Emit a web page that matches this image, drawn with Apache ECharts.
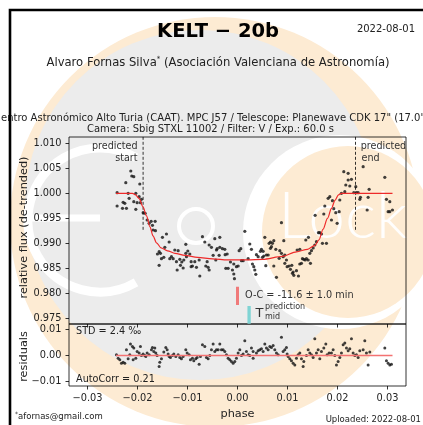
<!DOCTYPE html>
<html>
<head>
<meta charset="utf-8">
<script src="https://cdn.jsdelivr.net/npm/echarts@6/dist/echarts.min.js"></script>
<style>
html,body{margin:0;padding:0;background:#fff;}
#c{width:423px;height:425px;}
</style>
</head>
<body>
<div id="c"></div>
<script>
// ---------- data ----------
const phaseTicks = [-0.03, -0.02, -0.01, 0, 0.01, 0.02, 0.03];
const fluxTicks = [0.975, 0.980, 0.985, 0.990, 0.995, 1.000, 1.005, 1.010];
const residualTicks = [-0.01, 0, 0.01];

const observed = [
[-0.02134,1.00446],[-0.02114,1.00346],[-0.02074,1.00333],[-0.02234,1.00213],[-0.01954,1.00186],
[-0.02408,1.00013],[-0.02187,0.99999],[-0.02034,0.99999],[-0.01967,0.99933],[-0.01921,0.99879],
[-0.02167,0.99899],[-0.02074,0.99833],[-0.02287,0.99819],[-0.02254,0.99799],[-0.02408,0.99746],
[-0.02300,0.99699],[-0.02221,0.99699],[-0.02034,0.99679],[-0.02007,0.99813],[-0.01941,0.99813],
[-0.01887,0.99613],[-0.01847,0.99599],[-0.01807,0.99466],[-0.01767,0.99399],[-0.01727,0.99439],
[-0.01647,0.99439],[-0.01701,0.99359],[-0.01687,0.99266],[-0.01641,0.99253],[-0.01421,0.99186],
[-0.01501,0.99119],[-0.01367,0.99026],[-0.01454,0.98919],[-0.01567,0.98833],[-0.01541,0.98799],
[-0.01601,0.98786],[-0.01474,0.98719],[-0.01521,0.98693],[-0.01567,0.98559],[-0.01321,0.98733],
[-0.01254,0.98866],[-0.01187,0.98853],[-0.01354,0.98693],[-0.01287,0.98693],[-0.01154,0.98679],
[-0.01221,0.98633],[-0.01114,0.98626],[-0.01074,0.98666],[-0.01141,0.98559],[-0.01207,0.98466],
[-0.01087,0.98506],[-0.01034,0.98799],[-0.00994,0.98846],[-0.00954,0.98786],[-0.01021,0.98733],
[-0.01034,0.98979],[-0.00927,0.98633],[-0.00854,0.98633],[-0.00901,0.98546],[-0.00821,0.98519],
[-0.00927,0.98533],[-0.00767,0.98666],[-0.00754,0.98346],[-0.00701,0.99133],[-0.00654,0.99026],
[-0.00567,0.98966],[-0.00607,0.98633],[-0.00634,0.98546],[-0.00587,0.98519],[-0.00567,0.98466],
[-0.00521,0.98919],[-0.00454,0.99093],[-0.00407,0.98893],[-0.00487,0.98759],[-0.00434,0.98666],
[-0.00354,0.99119],[-0.00354,0.98919],[-0.00301,0.98893],[-0.00254,0.98879],[-0.00421,0.98866],
[-0.00367,0.98759],[-0.00247,0.98773],[-0.00207,0.98786],[-0.00234,0.98499],[-0.00187,0.98499],
[-0.00141,0.98626],[-0.00101,0.98466],[-0.00074,0.98386],[-0.00061,0.98293],[-0.00074,0.98586],
[-0.00021,0.98533],[0.00013,0.98546],[0.00033,0.98853],[0.00066,0.98893],[0.00079,0.98653],
[0.00113,0.98653],[0.00146,0.99239],[0.00246,0.98986],[0.00213,0.98693],[0.00299,0.98586],
[0.00326,0.98533],[0.00279,0.98879],[0.00346,0.98466],[0.00366,0.98379],[0.00379,0.98773],
[0.00413,0.98733],[0.00479,0.98879],[0.00459,0.98839],[0.00513,0.98839],[0.00546,0.99119],
[0.00499,0.98719],[0.00526,0.98746],[0.00579,0.98766],[0.00613,0.98766],[0.00633,0.98999],
[0.00659,0.99026],[0.00699,0.98999],[0.00726,0.99053],[0.00659,0.98899],[0.00679,0.98933],
[0.00766,0.98879],[0.00846,0.98853],[0.00879,0.98799],[0.00833,0.98699],[0.00913,0.98733],
[0.00926,0.99053],[0.00946,0.98766],[0.00979,0.98666],[0.00879,0.99413],[0.00566,0.98553],
[0.00726,0.98546],[0.00779,0.98319],[0.00946,0.98599],[0.00993,0.98533],[0.01033,0.98546],
[0.01059,0.98479],[0.01086,0.98559],[0.01113,0.98426],[0.01126,0.98359],[0.01099,0.98399],
[0.01219,0.98346],[0.01179,0.98453],[0.01193,0.98866],[0.01246,0.98879],[0.01246,0.98586],
[0.01279,0.98599],[0.01299,0.98693],[0.01326,0.98679],[0.01353,0.98666],[0.01379,0.98693],
[0.01413,0.98666],[0.01446,0.98799],[0.01459,0.98599],[0.01479,0.98853],[0.01366,0.99066],
[0.01419,0.99119],[0.01513,0.98906],[0.01546,0.98966],[0.01579,0.99033],[0.01619,0.99213],
[0.01646,0.99213],[0.01679,0.99186],[0.01699,0.98999],[0.01779,0.98999],[0.01726,0.99586],
[0.01553,0.99559],[0.01746,0.99746],[0.01813,0.99899],[0.01846,0.99933],[0.01899,0.99853],
[0.01926,0.99693],[0.01966,0.99613],[0.01879,0.99466],[0.01993,0.99399],[0.02033,0.99633],
[0.02046,0.99866],[0.02079,0.99999],[0.02146,1.00033],[0.02166,1.00166],[0.02213,1.00266],
[0.02246,1.00146],[0.02279,1.00279],[0.02126,1.00433],[0.02213,1.00399],[0.02366,1.00133],
[0.02326,1.00013],[0.02379,1.00013],[0.02413,1.00013],[0.02459,0.99919],[0.02446,0.99879],
[0.02513,1.00533],[0.02633,1.00079],[0.02613,0.99919],[0.02593,0.99666],[0.02946,1.00319],
[0.02979,0.99879],[0.03046,0.99833],[0.03013,0.99633],[0.03046,0.99633],[0.03099,0.99666]
];

const model = [
[-0.0243,1.0000],[-0.0210,1.0000],[-0.0204,0.9997],[-0.0197,0.9990],[-0.0189,0.9973],
[-0.0182,0.9955],[-0.0175,0.9933],[-0.0169,0.9915],[-0.0162,0.9901],[-0.0153,0.9891],
[-0.0140,0.9885],[-0.0125,0.9880],[-0.0105,0.9876],[-0.0080,0.9872],[-0.0050,0.9869],
[-0.0020,0.9867],[0.0020,0.9867],[0.0050,0.9868],[0.0090,0.9874],[0.0118,0.9883],
[0.0140,0.9888],[0.0155,0.9896],[0.0163,0.9907],[0.0171,0.9928],[0.0180,0.9950],
[0.0188,0.9970],[0.0195,0.9986],[0.0202,0.9997],[0.0208,1.0000],[0.0310,1.0000]
];

const residuals = [
[-0.02421,0.00027],[-0.02387,-0.00101],[-0.02354,-0.00165],[-0.02321,-0.00294],[-0.02287,-0.00255],
[-0.02254,-0.00294],[-0.02221,0.00219],[-0.02187,-0.00127],[-0.02154,0.00027],[-0.02141,0.00437],
[-0.02101,0.00347],[-0.02074,0.00283],[-0.02087,-0.00165],[-0.02034,-0.00101],[-0.02007,0.00155],
[-0.01967,0.00091],[-0.01941,0.00347],[-0.01921,0.00001],[-0.01887,0.00053],[-0.01854,0.00001],
[-0.01834,-0.00037],[-0.01807,0.00091],[-0.01767,0.00027],[-0.01721,0.00219],[-0.01701,0.00309],
[-0.01674,0.00155],[-0.01654,0.00283],[-0.01634,0.00091],[-0.01607,0.00001],[-0.01567,-0.00422],
[-0.01554,-0.00255],[-0.01521,-0.00127],[-0.01474,0.00129],[-0.01434,0.00309],[-0.01407,0.00219],
[-0.01387,0.00053],[-0.01367,-0.00037],[-0.01341,-0.00076],[-0.01301,0.00001],[-0.01274,0.00053],
[-0.01234,-0.00037],[-0.01187,0.00027],[-0.01154,-0.00076],[-0.01121,-0.00127],[-0.01087,-0.00037],
[-0.01034,0.00219],[-0.01007,0.00091],[-0.00967,0.00027],[-0.00941,-0.00165],[-0.00901,-0.00101],
[-0.00874,-0.00204],[-0.00834,-0.00127],[-0.00807,-0.00076],[-0.00767,-0.00332],[-0.00741,-0.00037],
[-0.00701,0.00412],[-0.00654,0.00347],[-0.00621,-0.00076],[-0.00587,-0.00127],[-0.00554,0.00001],
[-0.00521,0.00219],[-0.00487,0.00437],[-0.00454,0.00155],[-0.00421,0.00219],[-0.00387,0.00219],
[-0.00354,0.00437],[-0.00321,0.00219],[-0.00287,0.00219],[-0.00254,0.00155],[-0.00221,0.00027],
[-0.00187,-0.00101],[-0.00154,-0.00165],[-0.00121,-0.00230],[-0.00087,-0.00294],[-0.00054,-0.00230],
[-0.00021,-0.00101],[0.00013,0.00091],[0.00046,0.00219],[0.00079,0.00001],[0.00113,0.00053],
[0.00146,0.00565],[0.00179,0.00155],[0.00213,0.00027],[0.00246,0.00001],[0.00313,-0.00101],
[0.00279,0.00283],[0.00313,0.00155],[0.00379,0.00091],[0.00413,0.00181],[0.00446,0.00219],
[0.00479,0.00258],[0.00513,0.00155],[0.00546,0.00437],[0.00579,0.00283],[0.00613,0.00219],
[0.00646,0.00347],[0.00679,0.00309],[0.00713,0.00386],[0.00746,0.00219],[0.00779,0.00091],
[0.00813,0.00027],[0.00879,0.00694],[0.00913,0.00155],[0.00946,0.00219],[0.00979,0.00309],
[0.00993,0.00053],[0.01013,-0.00037],[0.01046,-0.00127],[0.01079,-0.00204],[0.01113,-0.00294],
[0.01146,-0.00358],[0.01179,-0.00101],[0.01213,0.00027],[0.01246,0.00091],[0.01279,-0.00127],
[0.01313,-0.00422],[0.01326,-0.00230],[0.01379,-0.00001],[0.01413,0.00219],[0.01446,0.00091],
[0.01479,0.00027],[0.01513,-0.00076],[0.01546,0.00642],[0.01579,0.00091],[0.01613,0.00219],
[0.01646,-0.00127],[0.01679,0.00155],[0.01726,0.00283],[0.01766,0.00437],[0.01793,0.00027],
[0.01833,0.00091],[0.01879,0.00091],[0.01913,0.00219],[0.01946,0.00001],[0.01979,-0.00358],
[0.02013,-0.00230],[0.02046,-0.00076],[0.02079,0.00091],[0.02113,0.00412],[0.02146,0.00476],
[0.02179,0.00283],[0.02213,0.00181],[0.02246,0.00258],[0.02279,0.00642],[0.02313,0.00091],
[0.02346,0.00001],[0.02379,0.00027],[0.02413,-0.00076],[0.02446,0.00181],[0.02513,0.00219],
[0.02546,0.00565],[0.02579,0.00091],[0.02613,-0.00358],[0.02646,0.00129],[0.02946,0.00283],
[0.02979,-0.00204],[0.03013,-0.00294],[0.03046,-0.00358],[0.03079,-0.00332]
];

const residualZero = [[-0.0243, 0], [0.0310, 0]];
const predictedStart = [[-0.01888, 1.0113], [-0.01888, 0.99266]];
const predictedEnd = [[0.0236, 1.0113], [0.0236, 0.99266]];
const observedMid = [[0.0, 0.98133], [0.0, 0.97767]];
const predictedMid = [[0.00232, 0.97746], [0.00232, 0.9739]];

// ---------- chart ----------
const FONT = "DejaVu Sans";
const fmt = (v, d) => (v < -1e-12 ? "\u2212" : "") + Math.abs(v).toFixed(d);

const chart = echarts.init(document.getElementById("c"), null, {renderer: "canvas"});

function xAxisCfg(grid, labels) {
  return {
    type: "value", gridIndex: grid, min: -0.0337, max: 0.0337, position: "bottom",
    axisLine: {show: false, onZero: false},
    splitLine: {show: false},
    minorTick: {show: false},
    axisTick: {show: true, customValues: phaseTicks, length: 3.5, inside: false,
               lineStyle: {color: "#000", width: 0.8}},
    axisLabel: {show: labels, customValues: phaseTicks, margin: 7,
                fontFamily: FONT, fontSize: 9.8, color: "#222",
                formatter: v => fmt(v, 2)}
  };
}

function yAxisCfg(grid, min, max, ticks, digits) {
  return {
    type: "value", gridIndex: grid, min: min, max: max, position: "left",
    axisLine: {show: false, onZero: false}, splitLine: {show: false},
    minorTick: {show: false},
    axisTick: {show: true, customValues: ticks, length: 3.5, lineStyle: {color: "#000", width: 0.8}},
    axisLabel: {customValues: ticks, margin: 7.5, fontFamily: FONT, fontSize: 9.8, color: "#222",
                formatter: v => fmt(v, digits)}
  };
}

const watermark = [
  {type: "circle", z: -20, silent: true, shape: {cx: 215, cy: 222, r: 205}, style: {fill: "#fdebd3"}},
  {type: "circle", z: -19, silent: true, shape: {cx: 200, cy: 205, r: 175}, style: {fill: "#ececec"}},
  {type: "circle", z: -18, silent: true, shape: {cx: 340, cy: 232, r: 97}, style: {fill: "#ffffff"}},
  {type: "circle", z: -17, silent: true, shape: {cx: 348, cy: 232, r: 86}, style: {fill: "#fdebd3"}},
  {type: "arc", z: -16, silent: true,
   shape: {cx: 100, cy: 220, r: 72, startAngle: Math.PI / 3, endAngle: 5 * Math.PI / 3, clockwise: true},
   style: {stroke: "#ffffff", lineWidth: 9, fill: null}},
  {type: "line", z: -16, silent: true, shape: {x1: 28, y1: 218, x2: 100, y2: 218},
   style: {stroke: "#ffffff", lineWidth: 7}},
  {type: "circle", z: -16, silent: true, shape: {cx: 196, cy: 226, r: 17},
   style: {fill: null, stroke: "#ffffff", lineWidth: 4}},
  {type: "text", z: -16, silent: true,
   style: {text: "Lock", x: 278, y: 217, fill: "#ffffff", opacity: 0.95,
           font: "300 66px Lato", textAlign: "left", textVerticalAlign: "middle"}}
];

function txt(text, x, y, size, opts) {
  opts = opts || {};
  return {
    type: "text", z: 100, silent: true,
    rotation: opts.rot || 0,
    x: x, y: y,
    style: {
      text: text, x: 0, y: 0,
      fill: opts.color || "#222",
      font: (opts.weight || "normal") + " " + size + "px " + FONT,
      textAlign: opts.align || "left",
      textVerticalAlign: "middle"
    }
  };
}

const texts = [
  {type: "rect", z: 120, silent: true, shape: {x: 10, y: 10, width: 700, height: 700},
   style: {fill: null, stroke: "#000", lineWidth: 2.6}},
  txt("KELT \u2212 20b", 218, 32, 19.5, {weight: "bold", align: "center", color: "#000"}),
  txt("2022-08-01", 415, 29.5, 10, {align: "right"}),
  {type: "text", z: 100, silent: true, x: 218, y: 63,
   style: {text: "{a|Alvaro Fornas Silva}{s|*}{a| (Asociación Valenciana de Astronomía)}",
           textAlign: "center", textVerticalAlign: "middle",
           rich: {a: {font: "11.6px " + FONT, fill: "#222", lineHeight: 14},
                  s: {font: "7px " + FONT, fill: "#222", verticalAlign: "top", lineHeight: 14}}}},
  txt("entro Astronómico Alto Turia (CAAT). MPC J57 / Telescope: Planewave CDK 17\" (17.0\")", 1, 118, 10),
  txt("Camera: Sbig STXL 11002 / Filter: V / Exp.: 60.0 s", 210.5, 129, 10, {align: "center"}),
  txt("predicted", 137.5, 146, 9.6, {align: "right", color: "#333"}),
  txt("start", 137.5, 158.3, 9.6, {align: "right", color: "#333"}),
  txt("predicted", 360.7, 146, 9.6, {color: "#333"}),
  txt("end", 361.5, 158.3, 9.6, {color: "#333"}),
  txt("O-C = -11.6 \u00b1 1.0 min", 245, 295.5, 9.7, {color: "#333"}),
  txt("T", 255.5, 313.5, 13, {color: "#333"}),
  txt("prediction", 265, 307.3, 8, {color: "#333"}),
  txt("mid", 265, 317, 8, {color: "#333"}),
  txt("STD = 2.4 \u2030", 76, 331, 9.7, {color: "#222"}),
  txt("AutoCorr = 0.21", 76, 379.5, 9.7, {color: "#222"}),
  txt("relative flux (de-trended)", 24, 227.5, 11.3, {align: "center", rot: Math.PI / 2}),
  txt("residuals", 24, 356.5, 11.3, {align: "center", rot: Math.PI / 2}),
  txt("phase", 237.5, 414.5, 11.3, {align: "center"}),
  {type: "text", z: 100, silent: true, x: 15, y: 417,
   style: {text: "{s|*}{a|afornas@gmail.com}", textAlign: "left", textVerticalAlign: "middle",
           rich: {a: {font: "8.5px " + FONT, fill: "#222", lineHeight: 11},
                  s: {font: "6px " + FONT, fill: "#222", verticalAlign: "top", lineHeight: 11}}}},
  txt("Uploaded: 2022-08-01", 421, 419.5, 8.5, {align: "right"})
];

const option = {
  animation: false,
  backgroundColor: "transparent",
  grid: [
    {left: 69, right: 17, top: 137, height: 187, show: true, borderColor: "#000", borderWidth: 0.8,
     backgroundColor: "transparent", containLabel: false},
    {left: 69, right: 17, top: 324, height: 62, show: true, borderColor: "#000", borderWidth: 0.8,
     backgroundColor: "transparent", containLabel: false}
  ],
  xAxis: [xAxisCfg(0, false), xAxisCfg(1, true)],
  yAxis: [
    yAxisCfg(0, 0.97386, 1.01126, fluxTicks, 3),
    yAxisCfg(1, -0.01164, 0.01202, residualTicks, 2)
  ],
  graphic: {elements: watermark.concat(texts)},
  series: [
    {type: "line", xAxisIndex: 0, yAxisIndex: 0, data: predictedStart, showSymbol: false, z: 3,
     lineStyle: {color: "#000", width: 0.8, type: [3, 2]}, silent: true},
    {type: "line", xAxisIndex: 0, yAxisIndex: 0, data: predictedEnd, showSymbol: false, z: 3,
     lineStyle: {color: "#000", width: 0.8, type: [3, 2]}, silent: true},
    {type: "line", xAxisIndex: 0, yAxisIndex: 0, data: observedMid, showSymbol: false, z: 3,
     lineStyle: {color: "#f07a7a", width: 3}, silent: true},
    {type: "line", xAxisIndex: 0, yAxisIndex: 0, data: predictedMid, showSymbol: false, z: 3,
     lineStyle: {color: "#7fd4d4", width: 3.3}, silent: true},
    {type: "scatter", xAxisIndex: 0, yAxisIndex: 0, data: observed, symbol: "circle", symbolSize: 3.2,
     itemStyle: {color: "#111"}, z: 4, silent: true},
    {type: "line", xAxisIndex: 0, yAxisIndex: 0, data: model, showSymbol: false, smooth: 0.3,
     smoothMonotone: "x", z: 5, lineStyle: {color: "#ee2a2a", width: 1.2}, silent: true},
    {type: "scatter", xAxisIndex: 1, yAxisIndex: 1, data: residuals, symbol: "circle", symbolSize: 3,
     itemStyle: {color: "#111"}, z: 4, silent: true},
    {type: "line", xAxisIndex: 1, yAxisIndex: 1, data: residualZero, showSymbol: false, z: 5,
     lineStyle: {color: "#f47272", width: 1.6}, silent: true}
  ]
};
chart.setOption(option);
</script>
</body>
</html>
